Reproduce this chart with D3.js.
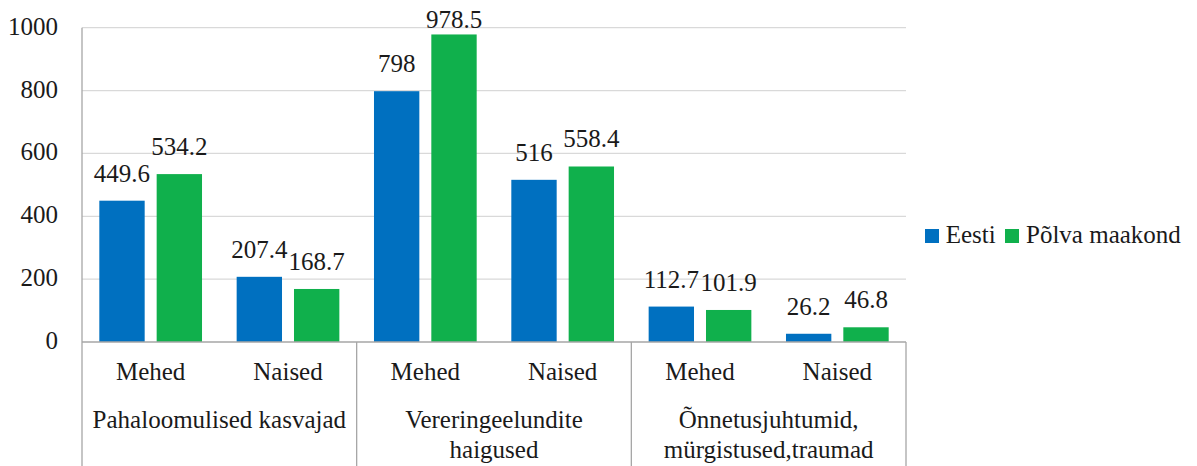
<!DOCTYPE html>
<html><head><meta charset="utf-8">
<script src="https://cdn.jsdelivr.net/npm/d3@7"></script>
<style>body{margin:0;background:#fff}svg{display:block}</style>
</head><body>
<svg id="c" width="1197" height="466"></svg>
<script>
const groupLabels = [["Pahaloomulised kasvajad"], ["Vereringeelundite", "haigused"], ["Õnnetusjuhtumid,", "mürgistused,traumad"]];
const subLabels = ["Mehed", "Naised"];
const seriesNames = ["Eesti", "Põlva maakond"];
const eesti = [449.6, 207.4, 798, 516, 112.7, 26.2];
const polva = [534.2, 168.7, 978.5, 558.4, 101.9, 46.8];
const yTicks = [0, 200, 400, 600, 800, 1000];

const colors = ["#0070C0", "#10B04C"];
const FONT = "'Liberation Serif', 'Times New Roman', serif";
const svg = d3.select("#c").attr("font-family", FONT);
const L = 82, R = 906, T = 27.7, B = 342;
const fs = 25;
const tcol = "#1a1a1a";

const y = d3.scaleLinear().domain([0, 1000]).range([B, T]);
const keys = [];
groupLabels.forEach((g, gi) => subLabels.forEach((s, si) => keys.push(gi + "-" + si)));
const xSub = d3.scaleBand().domain(keys).range([L, R]).padding(0);
const xGroup = d3.scaleBand().domain(groupLabels.map((d, i) => i)).range([L, R]).padding(0);
const xSer = d3.scaleBand().domain([0, 1]).range([0, xSub.bandwidth()]).paddingInner(0.209).paddingOuter(0.302);

function txt(sel) { return sel.attr("font-family", FONT).attr("font-size", fs).attr("fill", tcol); }

// gridlines
svg.append("g").selectAll("line").data(yTicks.filter(d => d > 0)).join("line")
  .attr("x1", L).attr("x2", R).attr("y1", d => y(d)).attr("y2", d => y(d))
  .attr("stroke", "#d9d9d9").attr("stroke-width", 1.3);

// y tick labels
txt(svg.append("g").selectAll("text").data(yTicks).join("text")
  .attr("x", 58).attr("y", d => y(d) + 7).attr("text-anchor", "end")).text(d => d);

// bars
const data = [];
keys.forEach((k, i) => { data.push({k, s: 0, v: eesti[i]}); data.push({k, s: 1, v: polva[i]}); });
svg.append("g").selectAll("rect").data(data).join("rect")
  .attr("x", d => xSub(d.k) + xSer(d.s)).attr("width", xSer.bandwidth())
  .attr("y", d => y(d.v)).attr("height", d => y(0) - y(d.v))
  .attr("fill", d => colors[d.s]);

// value labels
txt(svg.append("g").selectAll("text").data(data).join("text")
  .attr("x", d => xSub(d.k) + xSer(d.s) + xSer.bandwidth() / 2)
  .attr("y", d => Math.max(y(d.v) - 19, 28.3)).attr("text-anchor", "middle")).text(d => d.v);

// axes lines
const axisCol = "#a6a6a6";
svg.append("line").attr("x1", L).attr("x2", R).attr("y1", B).attr("y2", B).attr("stroke", axisCol).attr("stroke-width", 1.3);
svg.append("line").attr("x1", L).attr("x2", L).attr("y1", T).attr("y2", 466).attr("stroke", axisCol).attr("stroke-width", 1.3);
svg.append("g").selectAll("line").data(groupLabels.map((d, i) => i)).join("line")
  .attr("x1", d => xGroup(d) + xGroup.bandwidth()).attr("x2", d => xGroup(d) + xGroup.bandwidth())
  .attr("y1", B).attr("y2", 466).attr("stroke", axisCol).attr("stroke-width", 1.3);

// sub labels
txt(svg.append("g").selectAll("text").data(keys).join("text")
  .attr("x", d => xSub(d) + xSub.bandwidth() / 2).attr("y", 380)
  .attr("text-anchor", "middle"))
  .text(d => subLabels[+d.split("-")[1]]);

// group labels
const gl = txt(svg.append("g").selectAll("text").data(groupLabels).join("text")
  .attr("x", (d, i) => xGroup(i) + xGroup.bandwidth() / 2).attr("y", 428)
  .attr("text-anchor", "middle"));
gl.selectAll("tspan").data(d => d).join("tspan")
  .attr("x", function () { return this.parentNode.getAttribute("x"); })
  .attr("dy", (d, i) => i === 0 ? 0 : 30).text(d => d);

// legend
const leg = [{x: 925, tx: 945.7}, {x: 1005, tx: 1026}];
seriesNames.forEach((n, i) => {
  svg.append("rect").attr("x", leg[i].x).attr("y", 229).attr("width", 14).attr("height", 14).attr("fill", colors[i]);
  txt(svg.append("text").attr("x", leg[i].tx).attr("y", 243)).text(n);
});
</script>
</body></html>
